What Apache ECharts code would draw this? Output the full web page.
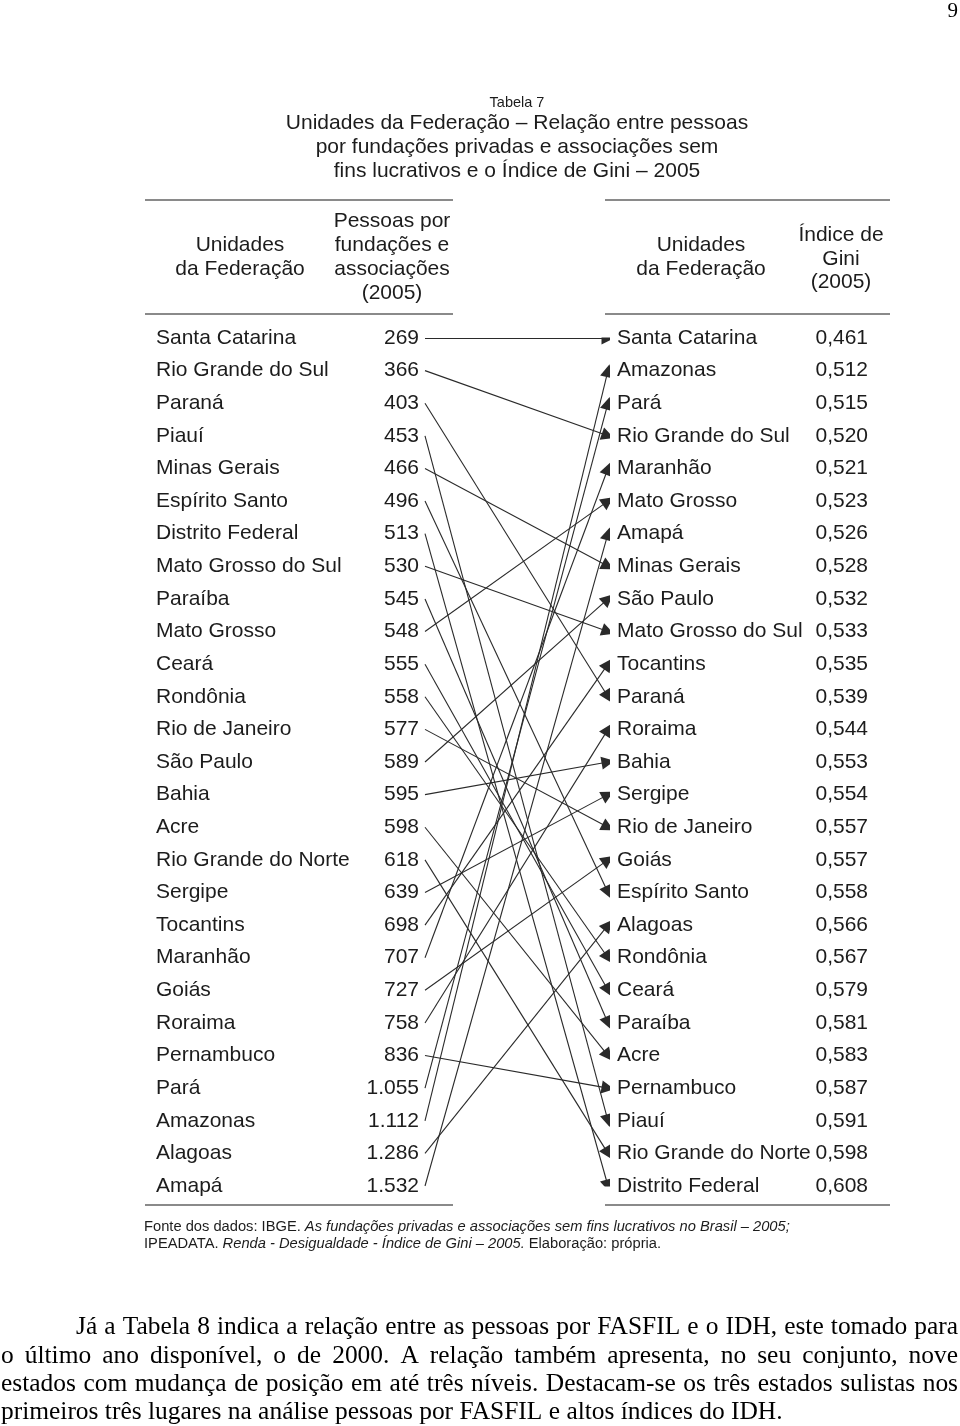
<!DOCTYPE html>
<html>
<head>
<meta charset="utf-8">
<script src="https://cdn.jsdelivr.net/npm/echarts@6/dist/echarts.min.js"></script>
<style>
html,body{margin:0;padding:0;background:#fff}
#main{width:960px;height:1426px}
</style>
</head>
<body>
<div id="main"></div>
<script>
// coluna da esquerda: ordenada por pessoas por FASFIL
const estadosPessoas = ['Santa Catarina','Rio Grande do Sul','Paraná','Piauí','Minas Gerais','Espírito Santo',
  'Distrito Federal','Mato Grosso do Sul','Paraíba','Mato Grosso','Ceará','Rondônia','Rio de Janeiro',
  'São Paulo','Bahia','Acre','Rio Grande do Norte','Sergipe','Tocantins','Maranhão','Goiás','Roraima',
  'Pernambuco','Pará','Amazonas','Alagoas','Amapá'];
const pessoas = [269,366,403,453,466,496,513,530,545,548,555,558,577,589,595,598,618,639,698,707,727,758,836,1055,1112,1286,1532];

// coluna da direita: ordenada pelo índice de Gini
const estadosGini = ['Santa Catarina','Amazonas','Pará','Rio Grande do Sul','Maranhão','Mato Grosso','Amapá',
  'Minas Gerais','São Paulo','Mato Grosso do Sul','Tocantins','Paraná','Roraima','Bahia','Sergipe',
  'Rio de Janeiro','Goiás','Espírito Santo','Alagoas','Rondônia','Ceará','Paraíba','Acre','Pernambuco',
  'Piauí','Rio Grande do Norte','Distrito Federal'];
const gini = [0.461,0.512,0.515,0.520,0.521,0.523,0.526,0.528,0.532,0.533,0.535,0.539,0.544,0.553,0.554,
  0.557,0.557,0.558,0.566,0.567,0.579,0.581,0.583,0.587,0.591,0.598,0.608];

const paragrafo = [
  'Já a Tabela 8 indica a relação entre as pessoas por FASFIL e o IDH, este tomado para',
  'o último ano disponível, o de 2000. A relação também apresenta, no seu conjunto, nove',
  'estados com mudança de posição em até três níveis. Destacam-se os três estados sulistas nos',
  'primeiros três lugares na análise pessoas por FASFIL e altos índices do IDH.'
];

const sans = '"Liberation Sans", Arial, sans-serif';
const serif = '"Liberation Serif", "Times New Roman", serif';
const ink = '#1c1c1c';

function fmtPessoas(n) {
  if (n >= 1000) return Math.floor(n / 1000) + '.' + String(n % 1000).padStart(3, '0');
  return String(n);
}
function fmtGini(g) {
  return g.toFixed(3).replace('.', ',');
}

const chart = echarts.init(document.getElementById('main'), null, {renderer: 'canvas'});

// texto justificado do paragrafo
const ctx = document.createElement('canvas').getContext('2d');
ctx.font = '100px ' + serif;
const fsPar = 100 * 782 / ctx.measureText(paragrafo[3]).width;
ctx.font = fsPar + 'px ' + serif;
const parY = [1327, 1356, 1384, 1412];
const parElems = [];
paragrafo.forEach(function (linha, i) {
  const left = i === 0 ? 76 : 1;
  if (i === paragrafo.length - 1) {
    parElems.push({type: 'text', x: left, y: parY[i],
      style: {text: linha, fill: '#000', fontSize: fsPar, fontFamily: serif, align: 'left', verticalAlign: 'middle'}});
    return;
  }
  const words = linha.split(' ');
  const widths = words.map(w => ctx.measureText(w).width);
  const total = widths.reduce((a, b) => a + b, 0);
  const gap = (958 - left - total) / (words.length - 1);
  let x = left;
  words.forEach(function (w, k) {
    parElems.push({type: 'text', x: x, y: parY[i],
      style: {text: w, fill: '#000', fontSize: fsPar, fontFamily: serif, align: 'left', verticalAlign: 'middle'}});
    x += widths[k] + gap;
  });
});

function rule(x1, x2, y) {
  return {type: 'line', shape: {x1: x1, y1: y, x2: x2, y2: y}, style: {stroke: '#8a8a8a', lineWidth: 2}};
}
function label(x, y, text, size, lh) {
  return {type: 'text', x: x, y: y,
    style: {text: text, fill: ink, fontSize: size, fontFamily: sans, align: 'center', verticalAlign: 'middle', lineHeight: lh}};
}

const ligacoes = estadosPessoas.map(function (s, i) {
  return {coords: [[0, i], [1, estadosGini.indexOf(s)]]};
});

const option = {
  backgroundColor: '#fff',
  animation: false,
  grid: {left: 425, right: 352, top: 338, bottom: 240},
  xAxis: {type: 'value', min: 0, max: 1, show: false},
  yAxis: [
    {
      type: 'category', position: 'left', inverse: true, boundaryGap: false,
      data: estadosPessoas,
      axisLine: {show: false}, axisTick: {show: false}, splitLine: {show: false},
      axisLabel: {
        interval: 0, margin: 6, hideOverlap: false,
        formatter: function (v, i) { return '{n|' + v + '}{v|' + fmtPessoas(pessoas[i]) + '}'; },
        rich: {
          n: {width: 200, align: 'left', fontSize: 21, fontFamily: sans, color: ink},
          v: {width: 63, align: 'right', fontSize: 21, fontFamily: sans, color: ink}
        }
      }
    },
    {
      type: 'category', position: 'right', inverse: true, boundaryGap: false,
      data: estadosGini,
      axisLine: {show: false}, axisTick: {show: false}, splitLine: {show: false},
      axisLabel: {
        interval: 0, margin: 9, hideOverlap: false,
        formatter: function (v, i) { return '{n|' + v + '}{v|' + fmtGini(gini[i]) + '}'; },
        rich: {
          n: {width: 199, align: 'left', fontSize: 21, fontFamily: sans, color: ink},
          v: {width: 52, align: 'right', fontSize: 21, fontFamily: sans, color: ink}
        }
      }
    }
  ],
  series: [{
    type: 'lines',
    coordinateSystem: 'cartesian2d',
    xAxisIndex: 0, yAxisIndex: 0,
    symbol: ['none', 'triangle'],
    symbolSize: [11, 13],
    lineStyle: {color: '#2a2a2a', width: 1.1, opacity: 1},
    itemStyle: {color: '#111'},
    data: ligacoes
  }],
  graphic: [
    {type: 'text', x: 958, y: 11,
      style: {text: '9', fill: '#000', fontSize: 21, fontFamily: serif, align: 'right', verticalAlign: 'middle'}},
    label(517, 103, 'Tabela 7', 14.5, 16),
    label(517, 147, 'Unidades da Federação – Relação entre pessoas\npor fundações privadas e associações sem\nfins lucrativos e o Índice de Gini – 2005', 21, 24),
    rule(145, 453, 200), rule(605, 890, 200),
    label(240, 257, 'Unidades\nda Federação', 21, 24),
    label(392, 257, 'Pessoas por\nfundações e\nassociações\n(2005)', 21, 24),
    label(701, 257, 'Unidades\nda Federação', 21, 24),
    label(841, 259, 'Índice de\nGini\n(2005)', 21, 23.5),
    rule(145, 453, 314), rule(605, 890, 314),
    rule(145, 453, 1205), rule(605, 890, 1205),
    {type: 'text', x: 144, y: 1235,
      style: {
        text: '{r|Fonte dos dados: IBGE. }{i|As fundações privadas e associações sem fins lucrativos no Brasil – 2005;}\n{r|IPEADATA. }{i|Renda - Desigualdade - Índice de Gini – 2005.}{r| Elaboração: própria.}',
        align: 'left', verticalAlign: 'middle', lineHeight: 17,
        rich: {
          r: {fontSize: 14.7, fontFamily: sans, fill: ink, lineHeight: 17},
          i: {fontSize: 14.7, fontFamily: sans, fontStyle: 'italic', fill: ink, lineHeight: 17}
        }
      }
    }
  ].concat(parElems)
};

chart.setOption(option);
</script>
</body>
</html>
